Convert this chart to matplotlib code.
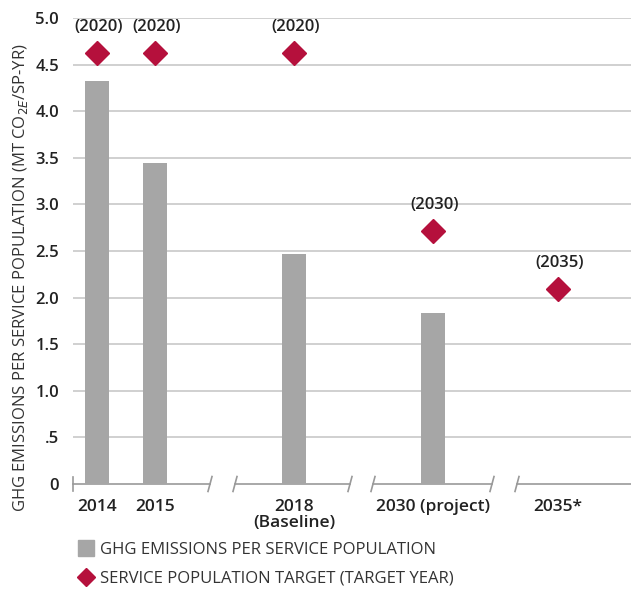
import matplotlib.pyplot as plt
from matplotlib.lines import Line2D

# data
categories = ['2014', '2015', '2018\n(Baseline)', '2030 (project)', '2035*']
emissions = [4.32, 3.44, 2.47, 1.83, None]
targets = [4.62, 4.62, 4.62, 2.71, 2.09]
target_years = ['(2020)', '(2020)', '(2020)', '(2030)', '(2035)']

# layout (x positions along the broken axis)
xpos = [97, 155, 294, 433, 558]
segments = [(73, 210), (235, 350), (373, 492), (517, 631)]

bar_color = '#a6a6a6'
red = '#b5103c'
plt.rcParams['font.family'] = ['Open Sans', 'DejaVu Sans']

fig = plt.figure(figsize=(6.31, 5.95), dpi=100)
ax = fig.add_axes([73 / 631, 1 - 484 / 595, 1 - 73 / 631, (484 - 18) / 595])
ax.set_xlim(73, 631)
ax.set_ylim(0, 5.0)

# gridlines
for v in [0.5, 1, 1.5, 2, 2.5, 3, 3.5, 4, 4.5, 5.0]:
    ax.axhline(v, color='#c8c8c8', lw=1.2, zorder=0)

# bars
for x, v in zip(xpos, emissions):
    if v is not None:
        ax.bar(x, v, width=24, color=bar_color, zorder=2)

# target diamonds with year labels
ax.plot(xpos, targets, linestyle='none', marker='D', ms=12, color=red, zorder=3)
for x, t, lab in zip(xpos, targets, target_years):
    ax.text(x + 2, t + 0.2, lab, ha='center', va='bottom', fontsize=12,
            fontweight='semibold', color='#222222')

for s in ax.spines.values():
    s.set_visible(False)

# broken baseline with slashes
for a, b in segments:
    ax.plot([a, b], [0, 0], color='#999999', lw=1.2, clip_on=False, zorder=1)
for a, b in segments[1:]:
    ax.plot([a - 2, a + 2], [-0.08, 0.08], color='#999999', lw=1.2, clip_on=False)
for a, b in segments[:-1]:
    ax.plot([b - 2, b + 2], [-0.08, 0.08], color='#999999', lw=1.2, clip_on=False)
ax.plot([73, 73], [-0.08, 0.08], color='#999999', lw=1.2, clip_on=False)

ax.set_xticks(xpos)
ax.set_xticklabels(categories, fontsize=12.5, fontweight='semibold', color='#222222',
                   linespacing=1.0)
ax.tick_params(axis='x', length=0, pad=11)

ax.set_yticks([0, 0.5, 1, 1.5, 2, 2.5, 3, 3.5, 4, 4.5, 5.0])
ax.set_yticklabels(['0', '.5', '1.0', '1.5', '2.0', '2.5', '3.0', '3.5', '4.0', '4.5', '5.0'],
                   fontsize=12, fontweight='semibold', color='#222222')
ax.tick_params(axis='y', length=0, pad=10)

fig.text(21 / 631, 1 - 278 / 595,
         'GHG EMISSIONS PER SERVICE POPULATION (MT CO$_{2E}$/SP-YR)',
         rotation=90, ha='center', va='center', fontsize=12, color='#333333')

# legend
handles = [
    Line2D([], [], linestyle='none', marker='s', ms=11, color=bar_color),
    Line2D([], [], linestyle='none', marker='D', ms=9.5, color=red),
]
fig.legend(handles, ['GHG EMISSIONS PER SERVICE POPULATION',
                     'SERVICE POPULATION TARGET (TARGET YEAR)'],
           loc='upper left', bbox_to_anchor=(77 / 631, 1 - 542 / 595),
           frameon=False, fontsize=12, handletextpad=0.25, labelspacing=0.75,
           handlelength=1.1, borderaxespad=0, borderpad=0, labelcolor='#333333')

fig.savefig('out.png', dpi=100)
